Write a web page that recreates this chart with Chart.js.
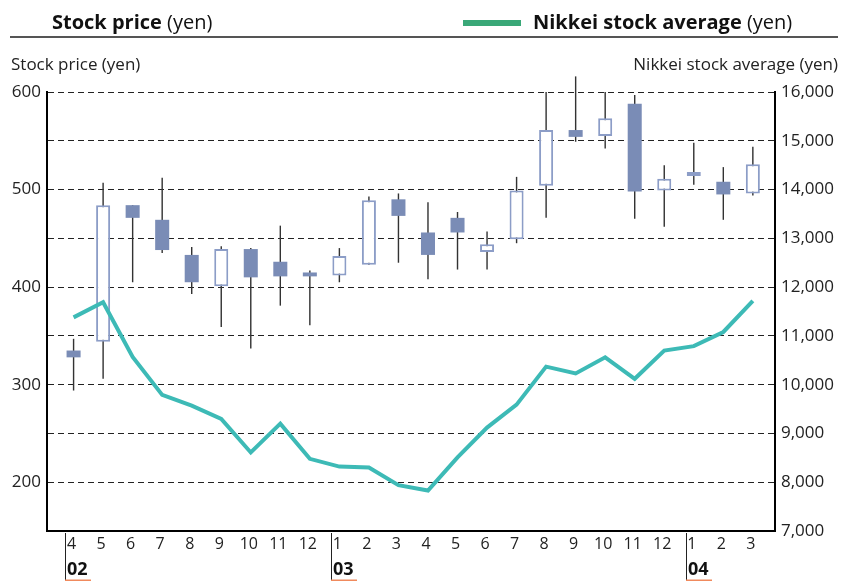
<!DOCTYPE html>
<html>
<head>
<meta charset="utf-8">
<script src="https://cdn.jsdelivr.net/npm/chart.js@4.4.1/dist/chart.umd.min.js"></script>
<style>
  html, body { margin: 0; padding: 0; background: #fff; }
  #wrap { position: relative; width: 852px; height: 581px; overflow: hidden; font-family: 'Open Sans', sans-serif; color: #111; }
  #c { position: absolute; left: 0; top: 0; }
  .hdr { position: absolute; font-size: 20px; line-height: 20px; white-space: nowrap; }
  .hdr b { font-weight: 700; }
  .ttl { position: absolute; font-size: 17px; line-height: 17px; white-space: nowrap; color: #222; }
  #sep { position: absolute; left: 10px; top: 36px; width: 828px; height: 1.5px; background: #555; }
  #leg { position: absolute; left: 463px; top: 20px; width: 58px; height: 5.5px; background: #3aa878; }
</style>
</head>
<body>
<div id="wrap">
  <canvas id="c" width="852" height="581"></canvas>
  <div class="hdr" style="left:52px; top:12px;"><b>Stock price</b> (yen)</div>
  <div id="leg"></div>
  <div class="hdr" style="left:533px; top:12px;"><b>Nikkei stock average</b> (yen)</div>
  <div id="sep"></div>
  <div class="ttl" style="left:11px; top:55px;">Stock price (yen)</div>
  <div class="ttl" style="right:14px; top:55px;">Nikkei stock average (yen)</div>
</div>
<script>
// ---- Data ----
const months = ['4','5','6','7','8','9','10','11','12','1','2','3','4','5','6','7','8','9','10','11','12','1','2','3'];
const years = [{label:'02', start:0}, {label:'03', start:9}, {label:'04', start:21}];
const openP  = [335, 344, 484, 469, 433, 401, 439, 426, 415, 412, 423, 490, 456, 471, 436, 449, 504, 561, 555, 588, 499, 514, 508, 496];
const highP  = [347, 507, 484, 512, 441, 442, 440, 463, 417, 440, 493, 496, 487, 477, 457, 513, 600, 616, 600, 597, 525, 548, 523, 544];
const lowP   = [294, 306, 405, 435, 393, 359, 337, 381, 361, 405, 423, 425, 408, 418, 418, 445, 471, 549, 542, 470, 462, 505, 469, 494];
const closeP = [328, 484, 471, 438, 405, 439, 410, 411, 411, 432, 489, 473, 433, 456, 444, 499, 561, 554, 573, 498, 511, 518, 495, 526];
const nikkei = [11380, 11690, 10570, 9790, 9570, 9300, 8610, 9200, 8480, 8320, 8300, 7940, 7830, 8510, 9120, 9590, 10370, 10230, 10560, 10120, 10700, 10790, 11080, 11720];
const leftTicks = [200, 300, 400, 500, 600];

// ---- Styles ----
const FILL = '#7a8cb6';
const HOLLOW_BORDER = '#8c9dc7';
const WICK = '#333';
const LINE = '#3dbab6';

const up = openP.map((o, i) => closeP[i] >= o);

Chart.defaults.font.family = "'Open Sans', sans-serif";
Chart.defaults.color = '#222';

const yearPlugin = {
  id: 'years',
  afterDraw(chart) {
    const ctx = chart.ctx;
    const xs = chart.scales.x;
    const top = chart.chartArea.bottom + 2;
    ctx.save();
    years.forEach(y => {
      const px = Math.round(xs.getPixelForValue(y.start - 0.28)) + 0.5;
      ctx.strokeStyle = '#222';
      ctx.lineWidth = 1;
      ctx.beginPath();
      ctx.moveTo(px, top);
      ctx.lineTo(px, 581);
      ctx.stroke();
      ctx.fillStyle = '#f08a5d';
      ctx.fillRect(px - 0.5, 579.5, 26, 1.5);
      ctx.fillStyle = '#111';
      ctx.font = "700 18px 'Open Sans', sans-serif";
      ctx.textBaseline = 'alphabetic';
      ctx.textAlign = 'left';
      ctx.fillText(y.label, px + 1.5, 575);
    });
    ctx.restore();
  }
};

new Chart(document.getElementById('c'), {
  type: 'bar',
  data: {
    datasets: [
      {
        type: 'line',
        label: 'Nikkei',
        yAxisID: 'y2',
        data: nikkei.map((v, i) => ({x: i, y: v})),
        borderColor: LINE,
        borderWidth: 4,
        pointRadius: 0,
        tension: 0,
        order: 0
      },
      {
        label: 'body',
        yAxisID: 'y',
        data: openP.map((o, i) => ({x: i, y: [o, closeP[i]]})),
        backgroundColor: up.map(u => u ? '#ffffff' : FILL),
        borderColor: up.map(u => u ? HOLLOW_BORDER : FILL),
        borderWidth: up.map(u => u ? 2 : 0),
        borderSkipped: false,
        grouped: false,
        barPercentage: 0.475,
        categoryPercentage: 1,
        order: 1
      },
      {
        label: 'wick',
        yAxisID: 'y',
        data: lowP.map((l, i) => ({x: i, y: [l, highP[i]]})),
        backgroundColor: WICK,
        borderWidth: 0,
        grouped: false,
        barPercentage: 0.048,
        categoryPercentage: 1,
        clip: false,
        order: 2
      }
    ]
  },
  options: {
    responsive: false,
    animation: false,
    devicePixelRatio: 1,
    layout: { padding: { top: 92, left: 0, right: 0, bottom: 0 } },
    plugins: { legend: { display: false }, tooltip: { enabled: false } },
    scales: {
      x: {
        type: 'linear',
        position: 'bottom',
        min: -0.9,
        max: 23.75,
        offset: false,
        grid: { display: false, drawTicks: false },
        border: { display: true, color: '#000', width: 2 },
        afterBuildTicks: s => { s.ticks = months.map((m, i) => ({ value: i })); },
        afterFit: s => { s.height = 50; },
        ticks: {
          autoSkip: false,
          maxRotation: 0,
          padding: 4,
          labelOffset: -2,
          font: { size: 16 },
          color: '#222',
          callback: v => months[v]
        }
      },
      y: {
        type: 'linear',
        position: 'left',
        min: 150,
        max: 600,
        afterBuildTicks: s => {
          const t = [];
          for (let v = 150; v <= 600; v += 50) t.push({ value: v });
          s.ticks = t;
        },
        afterFit: s => { s.width = 47; },
        grid: { color: '#222', lineWidth: 1, drawTicks: false },
        border: { display: true, color: '#000', width: 2, dash: [6, 4] },
        ticks: {
          padding: 6,
          font: { size: 17 },
          color: '#222',
          callback: v => leftTicks.includes(v) ? String(v) : ''
        }
      },
      y2: {
        type: 'linear',
        position: 'right',
        min: 7000,
        max: 16000,
        afterBuildTicks: s => {
          const t = [];
          for (let v = 7000; v <= 16000; v += 1000) t.push({ value: v });
          s.ticks = t;
        },
        afterFit: s => { s.width = 77; },
        grid: { display: false, drawTicks: false },
        border: { display: true, color: '#000', width: 2 },
        ticks: {
          padding: 6,
          font: { size: 17 },
          color: '#222',
          callback: v => v.toLocaleString('en-US')
        }
      }
    }
  },
  plugins: [yearPlugin]
});
</script>
</body>
</html>
